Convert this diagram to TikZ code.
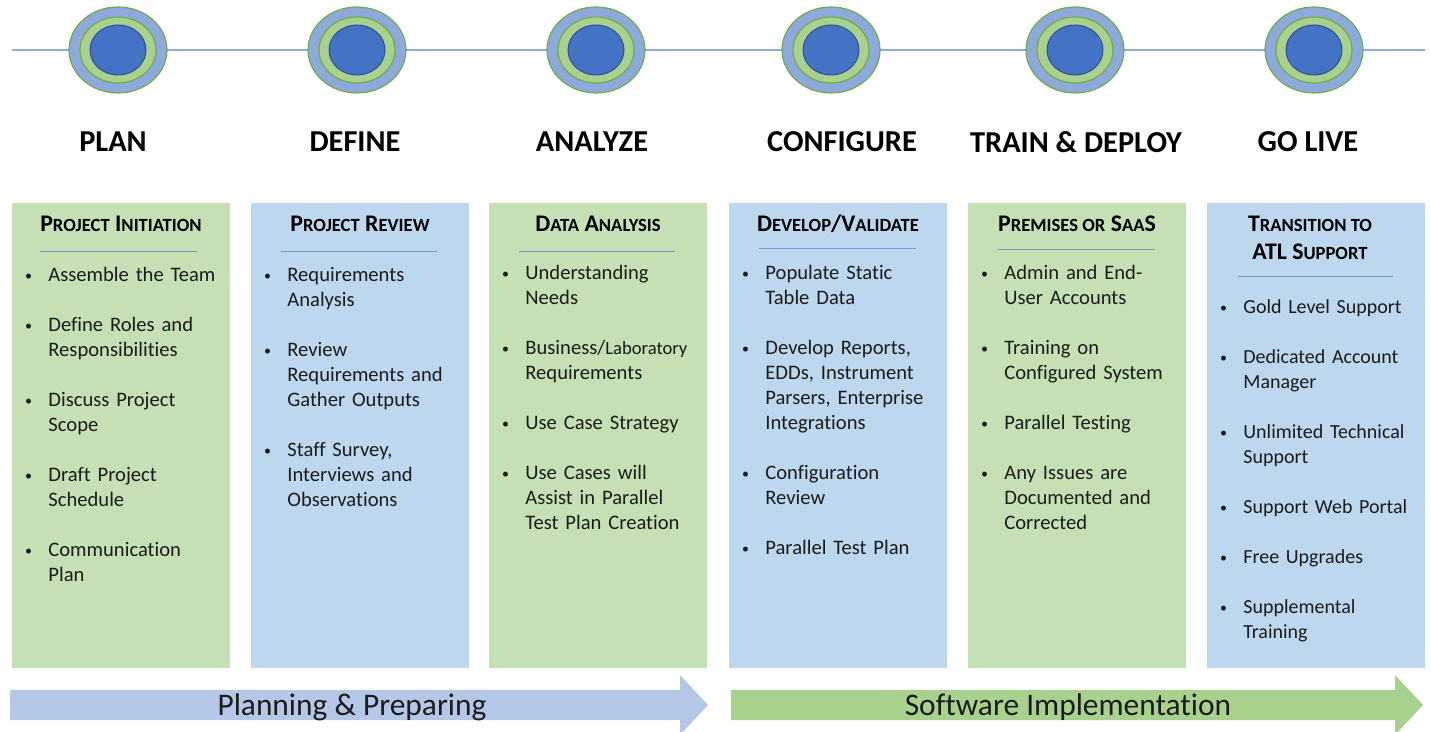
\documentclass[tikz,border=0pt]{standalone}
\usepackage{fontspec}
\setmainfont{Carlito}[Ligatures=NoCommon]
\usepackage{enumitem}
\usetikzlibrary{shapes.geometric}

\definecolor{boxgreen}{HTML}{C5E0B4}
\definecolor{boxblue}{HTML}{BDD7EE}
\definecolor{ringblue}{HTML}{8EA9DB}
\definecolor{ringgreen}{HTML}{A9D08E}
\definecolor{ringedge}{HTML}{70AD47}
\definecolor{corefill}{HTML}{4472C4}
\definecolor{coreedge}{HTML}{2F528F}
\definecolor{linecol}{HTML}{8FAADC}
\definecolor{rulecol}{HTML}{6F9FD0}
\definecolor{arrowblue}{HTML}{B4C7E7}
\definecolor{arrowgreen}{HTML}{A9D18E}
\definecolor{inkcol}{HTML}{1C1C1C}

\setlist[itemize]{label={\fontsize{7}{7}\selectfont\raisebox{0.3pt}{\textbullet}}, leftmargin=12pt, labelsep=8.2pt, itemsep=12.5pt, parsep=0pt, topsep=0pt, partopsep=0pt}
\newcommand\smc[1]{{\fontsize{9.3}{10}\selectfont #1}}

\tikzset{
    outerring/.style={ellipse, draw=ringedge, line width=0.6pt, fill=ringblue, minimum width=49pt, minimum height=43pt, inner sep=0pt},
    midring/.style={ellipse, draw=ringedge, line width=0.6pt, fill=ringgreen, minimum width=38pt, minimum height=33pt, inner sep=0pt},
    core/.style={ellipse, draw=coreedge, line width=0.5pt, fill=corefill, minimum width=28pt, minimum height=25pt, inner sep=0pt},
    phase/.style={font=\bfseries\fontsize{15.2}{18}\selectfont, text=black},
    colbox/.style={anchor=north west, minimum width=109pt, minimum height=232.5pt, inner sep=0pt},
    greenbox/.style={colbox, fill=boxgreen},
    bluebox/.style={colbox, fill=boxblue},
    boxtitle/.style={font=\bfseries\fontsize{11.9}{14}\selectfont, align=center, inner sep=0pt, text=black},
    sep/.style={draw=rulecol, line width=0.5pt},
    itemlist/.style={anchor=north west, inner sep=0pt, text width=104pt, font=\fontsize{10.3}{12.5}\selectfont, text=inkcol},
    bandtext/.style={font=\fontsize{15.7}{18}\selectfont, text=inkcol}
}

\begin{document}
\begin{tikzpicture}[x=0.5pt, y=-0.5pt]
    \useasboundingbox (0, 0) rectangle (1431, 732);

    % timeline
    \coordinate (tl) at (12, 50);
    \coordinate (tr) at (1425, 50);
    \draw[linecol, line width=0.7pt] (tl) to (tr);

    \node[outerring] at (118, 50)(o1){};
        \node[midring] at (o1)(g1){};
        \node[core] at (o1)(c1){};
    \node[outerring] at (357, 50)(o2){};
        \node[midring] at (o2)(g2){};
        \node[core] at (o2)(c2){};
    \node[outerring] at (596, 50)(o3){};
        \node[midring] at (o3)(g3){};
        \node[core] at (o3)(c3){};
    \node[outerring] at (831, 50)(o4){};
        \node[midring] at (o4)(g4){};
        \node[core] at (o4)(c4){};
    \node[outerring] at (1075, 50)(o5){};
        \node[midring] at (o5)(g5){};
        \node[core] at (o5)(c5){};
    \node[outerring] at (1314, 50)(o6){};
        \node[midring] at (o6)(g6){};
        \node[core] at (o6)(c6){};

    % phase names
    \node[phase] at (113, 142)(plan){PLAN};
    \node[phase] at (355, 142)(define){DEFINE};
    \node[phase] at (592, 142)(analyze){ANALYZE};
    \node[phase] at (842, 142)(configure){CONFIGURE};
    \node[phase] at (1076, 142)(deploy){TRAIN \& DEPLOY};
    \node[phase] at (1308, 142)(golive){GO LIVE};

    % columns
    \node[greenbox] at (12, 203)(b1){};
    \node[bluebox] at (251, 203)(b2){};
    \node[greenbox] at (489, 203)(b3){};
    \node[bluebox] at (729, 203)(b4){};
    \node[greenbox] at (968, 203)(b5){};
    \node[bluebox] at (1207, 203)(b6){};

    \node[boxtitle] at (121, 224)(t1){P\smc{ROJECT} I\smc{NITIATION}};
        \draw[sep] (40, 252) to (197, 252);
    \node[boxtitle] at (360, 224)(t2){P\smc{ROJECT} R\smc{EVIEW}};
        \draw[sep] (281, 252) to (437, 252);
    \node[boxtitle] at (598, 224)(t3){D\smc{ATA} A\smc{NALYSIS}};
        \draw[sep] (519, 252) to (675, 252);
    \node[boxtitle] at (838, 224)(t4){D\smc{EVELOP}/V\smc{ALIDATE}};
        \draw[sep] (759, 249) to (916, 249);
    \node[boxtitle] at (1077, 224)(t5){P\smc{REMISES OR} S\smc{AA}S};
        \draw[sep] (998, 250) to (1155, 250);
    \node[boxtitle] at (1310, 238)(t6){T\smc{RANSITION TO}\\ATL S\smc{UPPORT}};
        \draw[sep] (1238, 277) to (1393, 277);

    \node[itemlist] at (24, 256)(l1){\begin{itemize}
        \item Assemble the Team
        \item Define Roles and\\Responsibilities
        \item Discuss Project\\Scope
        \item Draft Project\\Schedule
        \item Communication\\Plan
    \end{itemize}};
    \node[itemlist] at (263, 256)(l2){\begin{itemize}
        \item Requirements\\Analysis
        \item Review\\Requirements and\\Gather Outputs
        \item Staff Survey,\\Interviews and\\Observations
    \end{itemize}};
    \node[itemlist] at (501, 254)(l3){\begin{itemize}
        \item Understanding\\Needs
        \item Business/{\fontsize{9.3}{12.5}\selectfont Laboratory}\\Requirements
        \item Use Case Strategy
        \item Use Cases will\\Assist in Parallel\\Test Plan Creation
    \end{itemize}};
    \node[itemlist] at (741, 254)(l4){\begin{itemize}
        \item Populate Static\\Table Data
        \item Develop Reports,\\EDDs, Instrument\\Parsers, Enterprise\\Integrations
        \item Configuration\\Review
        \item Parallel Test Plan
    \end{itemize}};
    \node[itemlist] at (980, 254)(l5){\begin{itemize}
        \item Admin and End-\\User Accounts
        \item Training on\\Configured System
        \item Parallel Testing
        \item Any Issues are\\Documented and\\Corrected
    \end{itemize}};
    \node[itemlist, font=\fontsize{10}{12.5}\selectfont] at (1219, 288)(l6){\begin{itemize}
        \item Gold Level Support
        \item Dedicated Account\\Manager
        \item Unlimited Technical\\Support
        \item Support Web Portal
        \item Free Upgrades
        \item Supplemental\\Training
    \end{itemize}};

    % bottom bands
    \fill[arrowblue] (10, 690) -- (680, 690) -- (680, 675) -- (708, 705)
        -- (680, 735) -- (680, 720) -- (10, 720) -- cycle;
    \fill[arrowgreen] (731, 690) -- (1395, 690) -- (1395, 675) -- (1423, 705)
        -- (1395, 735) -- (1395, 720) -- (731, 720) -- cycle;
    \node[bandtext] at (352, 707)(prep){Planning \& Preparing};
    \node[bandtext] at (1068, 707)(impl){Software Implementation};
\end{tikzpicture}
\end{document}
